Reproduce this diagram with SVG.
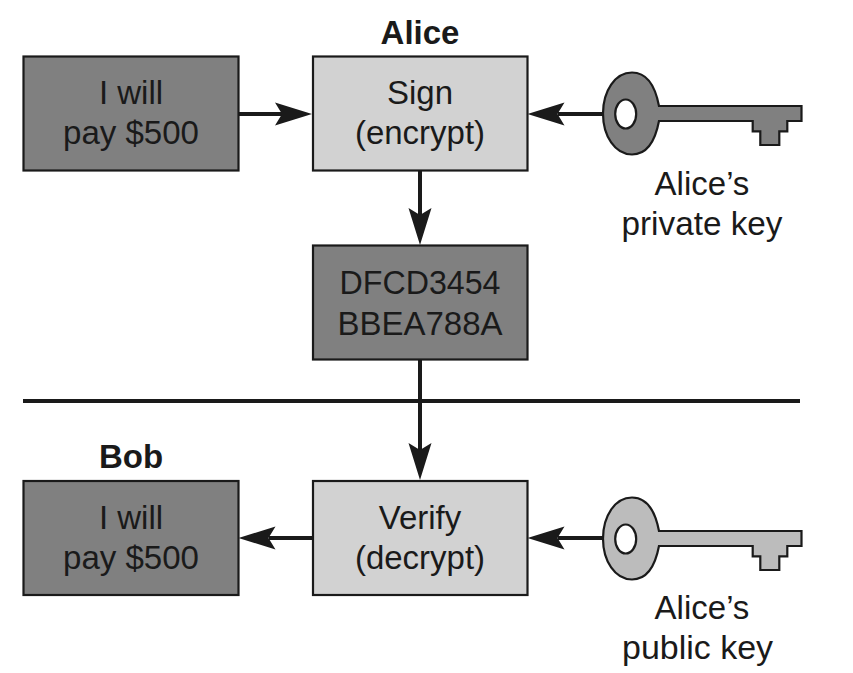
<svg xmlns="http://www.w3.org/2000/svg" width="853" height="673" viewBox="0 0 853 673">
<style>
text{font-family:"Liberation Sans",Arial,sans-serif;font-size:33px;fill:#1a1a1a;text-anchor:middle}
.b{font-weight:bold}
.dark{fill:#808080;stroke:#1a1a1a;stroke-width:2.2}
.light{fill:#d2d2d2;stroke:#1a1a1a;stroke-width:2.2}
.line{fill:none;stroke:#1a1a1a;stroke-width:4}
.key{stroke:#1a1a1a;stroke-width:2.2}
.hole{fill:#fff;stroke:#1a1a1a;stroke-width:2.2}
</style>
<defs>
<path id="head" d="M0 0L-37-11.500L-30 0L-37 11.500Z" fill="#1a1a1a"/>
<path id="keyshape" d="M659 106H801.500V121H787.300V131.300H779.300V145H760.300V131.300H752.700V121H659C655 142 646 154.500 632 154.500C615 154.500 603 136 603 113.500C603 91 615 72.500 632 72.500C646 72.500 655 85 659 106Z"/>
</defs>
<g id="connectors">
<path class="line" d="M239 114H285M420 171V215M420 360V450M313 538H269M603 114H558M603 538H558"/>
<path class="line" d="M23 401H800"/>
<use href="#head" transform="translate(312 114)"/>
<use href="#head" transform="translate(527.500 114) rotate(180)"/>
<use href="#head" transform="translate(420 245) rotate(90)"/>
<use href="#head" transform="translate(420 480) rotate(90)"/>
<use href="#head" transform="translate(238.500 538) rotate(180)"/>
<use href="#head" transform="translate(527.500 538) rotate(180)"/>
</g>
<g id="message"><rect class="dark" x="23.500" y="56.500" width="215" height="114"/><text x="131" y="104">I will</text><text x="131" y="144" textLength="136" lengthAdjust="spacingAndGlyphs">pay $500</text></g>
<g id="sign"><rect class="light" x="313" y="56.500" width="214.500" height="114"/><text x="420" y="104">Sign</text><text x="420" y="144">(encrypt)</text></g>
<g id="alice"><text class="b" x="420" y="44">Alice</text></g>
<g id="private-key"><use href="#keyshape" class="key" fill="#808080"/><ellipse class="hole" cx="625.700" cy="114" rx="10.500" ry="14.500"/><text x="702" y="195">Alice’s</text><text x="702" y="235" textLength="161" lengthAdjust="spacingAndGlyphs">private key</text></g>
<g id="cipher"><rect class="dark" x="313" y="245.500" width="214.500" height="114"/><text x="420" y="294" textLength="161" lengthAdjust="spacingAndGlyphs">DFCD3454</text><text x="420" y="335">BBEA788A</text></g>
<g id="bob"><text class="b" x="131" y="468">Bob</text></g>
<g id="result"><rect class="dark" x="23.500" y="481" width="215" height="114"/><text x="131" y="529">I will</text><text x="131" y="569" textLength="136" lengthAdjust="spacingAndGlyphs">pay $500</text></g>
<g id="verify"><rect class="light" x="313" y="481" width="214.500" height="114"/><text x="420" y="529">Verify</text><text x="420" y="569">(decrypt)</text></g>
<g id="public-key"><use href="#keyshape" class="key" fill="#bcbcbc" transform="translate(0 425)"/><ellipse class="hole" cx="625.700" cy="539" rx="10.500" ry="14.500"/><text x="702" y="619">Alice’s</text><text x="697.500" y="659" textLength="151" lengthAdjust="spacingAndGlyphs">public key</text></g>
</svg>
